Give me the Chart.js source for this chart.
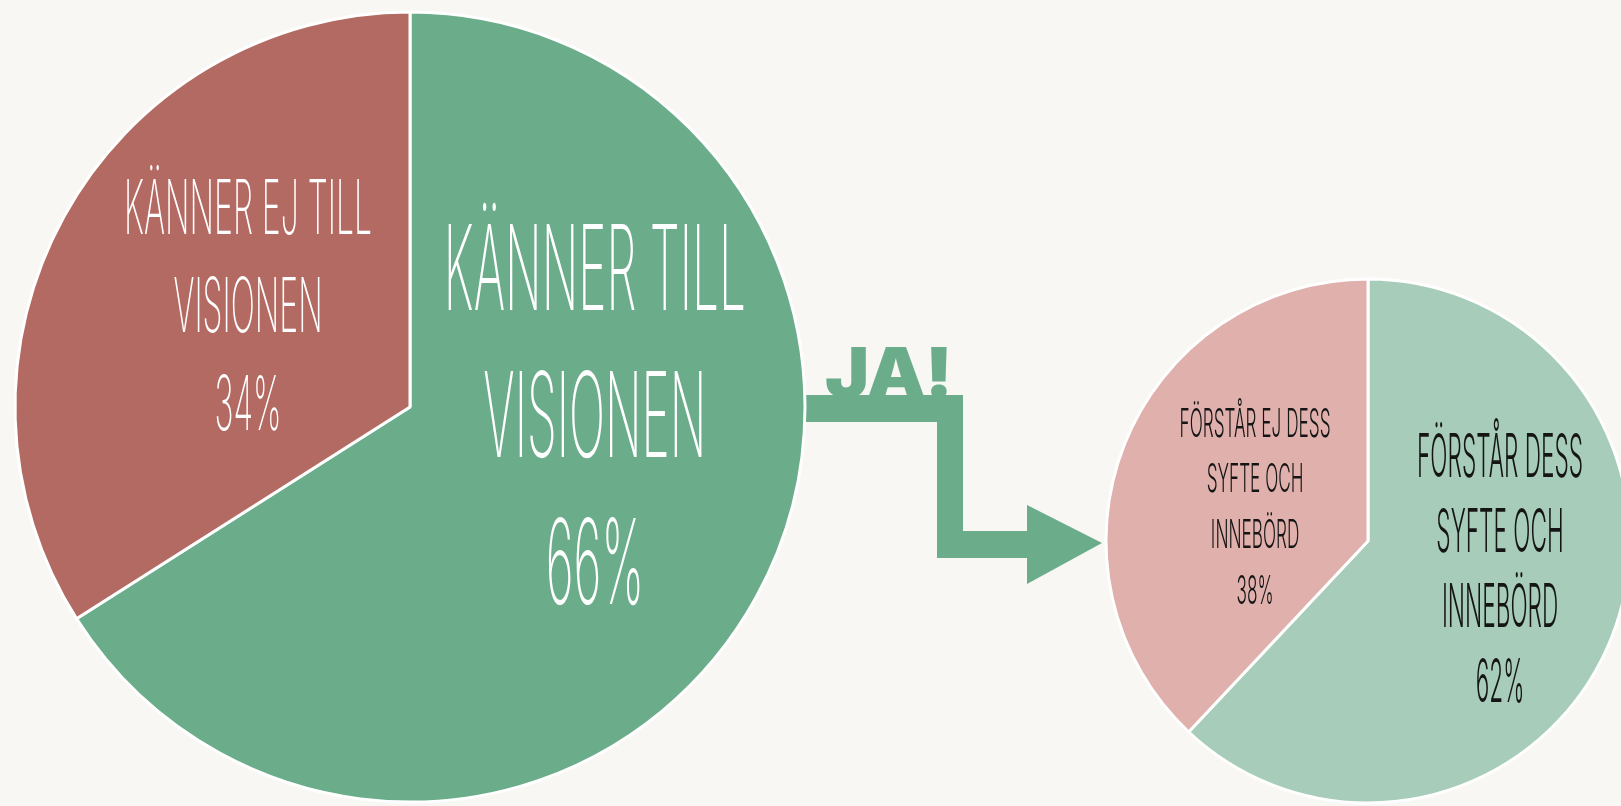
<!DOCTYPE html>
<html><head><meta charset="utf-8">
<script src="https://cdn.jsdelivr.net/npm/chart.js@4.4.1/dist/chart.umd.min.js"></script>
<style>
html,body{margin:0;padding:0;width:1621px;height:806px;overflow:hidden;background:#F8F7F3;}
#big{position:absolute;left:10px;top:7px;width:800px;height:800px;z-index:2}
#small{position:absolute;left:1098px;top:271px;width:540px;height:540px;z-index:2}
#arrow{position:absolute;left:0;top:0;z-index:1}
</style></head><body>
<svg id="arrow" width="1621" height="806">
  <polygon fill="#6BAD8B" points="790,395 963,395 963,531 1027,531 1027,505 1102,543 1027,584 1027,558 937,558 937,422 790,422"/>
  <text id="ja" x="0" y="0" font-family="Inter, 'DejaVu Sans', sans-serif" font-weight="900" font-size="69" letter-spacing="-1" fill="#6BAD8B">JA!</text>
</svg>
<div id="big"><canvas id="c1"></canvas></div>
<div id="small"><canvas id="c2"></canvas></div>
<script>
// ---- data ----
const bigCategories = ["Känner till visionen", "Känner ej till visionen"];
const bigValues = [66, 34];
const bigLines = [["KÄNNER TILL", "VISIONEN"], ["KÄNNER EJ TILL", "VISIONEN"]];

const smallCategories = ["Förstår dess syfte och innebörd", "Förstår ej dess syfte och innebörd"];
const smallValues = [62, 38];
const smallLines = [["FÖRSTÅR DESS", "SYFTE OCH", "INNEBÖRD"], ["FÖRSTÅR EJ DESS", "SYFTE OCH", "INNEBÖRD"]];

// stretch "JA!" to its width in the reference
(function () {
  const t = document.getElementById('ja');
  const w = t.getComputedTextLength() || 110;
  t.setAttribute('transform', 'translate(825,397) scale(' + (127 / w) + ',1)');
})();

// ---- label plugin ----
const sliceLabels = {
  id: 'sliceLabels',
  afterDatasetsDraw(chart, args, opts) {
    const meta = chart.getDatasetMeta(0);
    const ctx = chart.ctx;
    const ds = chart.data.datasets[0];
    meta.data.forEach((arc, i) => {
      const cfg = opts.items[i];
      const p = arc.getProps(['x', 'y', 'outerRadius'], true);
      const cx = p.x + cfg.dx * p.outerRadius;
      const cy = p.y + cfg.dy * p.outerRadius;
      const lines = opts.lines[i].concat([ds.data[i] + '%']);
      ctx.save();
      ctx.font = opts.weight + ' ' + cfg.size + 'px ' + opts.family;
      ctx.fillStyle = cfg.color;
      ctx.textAlign = 'center';
      ctx.textBaseline = 'alphabetic';
      const sx = cfg.width / ctx.measureText(lines[0]).width;
      const n = lines.length;
      lines.forEach((t, k) => {
        const ly = cy + (k - (n - 1) / 2) * cfg.gap + 0.36 * cfg.size;
        ctx.save();
        ctx.translate(cx, ly);
        ctx.scale(sx, 1);
        ctx.fillText(t, 0, 0);
        ctx.restore();
      });
      ctx.restore();
    });
  }
};

const FONT = "Inter, Roboto, 'Liberation Sans Narrow', sans-serif";

new Chart(document.getElementById('c1'), {
  type: 'pie',
  data: { labels: bigCategories, datasets: [{ data: bigValues, backgroundColor: ['#6BAD8B', '#B36A62'], borderColor: '#FFFFFF', borderWidth: 3 }] },
  options: {
    responsive: true, maintainAspectRatio: false, animation: false, radius: 395,
    layout: { padding: 0 },
    plugins: {
      legend: { display: false }, tooltip: { enabled: false },
      sliceLabels: {
        family: FONT, weight: 200, lines: bigLines,
        items: [
          { dx: 0.468, dy: 0.018, size: 118, gap: 147, width: 302, color: '#FFFFFF' },
          { dx: -0.41, dy: -0.26, size: 76, gap: 98, width: 248, color: '#FFFFFF' }
        ]
      }
    }
  },
  plugins: [sliceLabels]
});

new Chart(document.getElementById('c2'), {
  type: 'pie',
  data: { labels: smallCategories, datasets: [{ data: smallValues, backgroundColor: ['#A7CDBA', '#DFB0AC'], borderColor: '#FFFFFF', borderWidth: 3 }] },
  options: {
    responsive: true, maintainAspectRatio: false, animation: false, radius: 262,
    layout: { padding: 0 },
    plugins: {
      legend: { display: false }, tooltip: { enabled: false },
      sliceLabels: {
        family: FONT, weight: 300, lines: smallLines,
        items: [
          { dx: 0.504, dy: 0.103, size: 60, gap: 75, width: 166, color: '#151515' },
          { dx: -0.431, dy: -0.134, size: 40, gap: 55.7, width: 151, color: '#151515' }
        ]
      }
    }
  },
  plugins: [sliceLabels]
});
</script>
</body></html>
